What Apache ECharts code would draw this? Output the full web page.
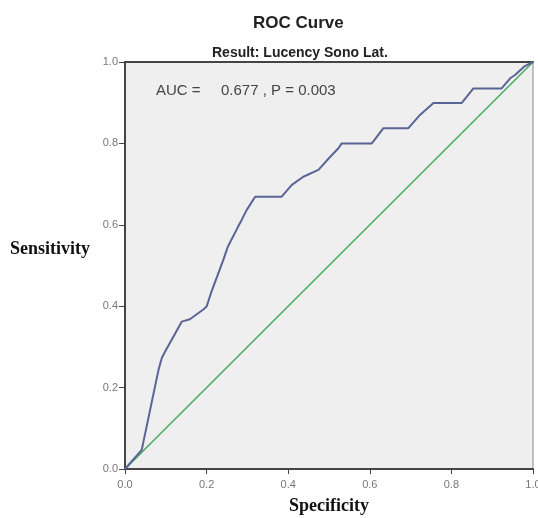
<!DOCTYPE html>
<html>
<head>
<meta charset="utf-8">
<script src="https://cdn.jsdelivr.net/npm/echarts@6/dist/echarts.min.js"></script>
<style>
  html, body { margin: 0; padding: 0; background: #ffffff; }
  #chart { width: 538px; height: 518px; }
</style>
</head>
<body>
<div id="chart"></div>
<script>
// ROC curve: false positive rate (1 - specificity) vs. sensitivity
var fpr = [0, 0.041, 0.082, 0.090, 0.098, 0.139, 0.159, 0.192, 0.200, 0.212, 0.241,
           0.252, 0.277, 0.286, 0.298, 0.319, 0.384, 0.409, 0.437, 0.474, 0.502,
           0.523, 0.531, 0.605, 0.633, 0.694, 0.723, 0.756, 0.825, 0.854, 0.923,
           0.944, 0.956, 0.980, 1.0];
var sensitivity = [0, 0.047, 0.243, 0.272, 0.288, 0.362, 0.368, 0.392, 0.399, 0.436, 0.514,
                   0.546, 0.595, 0.612, 0.636, 0.669, 0.669, 0.698, 0.718, 0.735, 0.766,
                   0.788, 0.800, 0.800, 0.837, 0.837, 0.870, 0.899, 0.899, 0.935, 0.935,
                   0.960, 0.968, 0.990, 1.0];
// Reference line (chance)
var refX = [0, 1];
var refY = [0, 1];
var tickLabels = ['0.0', '0.2', '0.4', '0.6', '0.8', '1.0'];

var rocData = fpr.map(function (v, i) { return [v, sensitivity[i]]; });
var refData = refX.map(function (v, i) { return [v, refY[i]]; });

var chart = echarts.init(document.getElementById('chart'), null, { renderer: 'canvas' });

var axisLabelFmt = function (v) {
  var idx = Math.round(v / 0.2);
  return tickLabels[idx] !== undefined ? tickLabels[idx] : '';
};

var sansFont = 'Liberation Sans, Arial, sans-serif';
var serifFont = 'Liberation Serif, Times New Roman, serif';

chart.setOption({
  backgroundColor: '#ffffff',
  animation: false,
  title: [
    {
      text: 'ROC Curve',
      left: 253, top: 15, padding: 0,
      textStyle: { fontFamily: sansFont, fontWeight: 'bold', fontSize: 17, color: '#222' }
    },
    {
      text: 'Result: Lucency Sono Lat.',
      left: 212, top: 46, padding: 0,
      textStyle: { fontFamily: sansFont, fontWeight: 'bold', fontSize: 14, color: '#222' }
    }
  ],
  grid: {
    left: 125, right: 5, top: 62, bottom: 49,
    containLabel: false,
    outerBoundsMode: 'none',
    show: true,
    backgroundColor: '#efefef',
    borderColor: '#888',
    borderWidth: 1
  },
  xAxis: [
    {
      type: 'value', min: 0, max: 1, interval: 0.2,
      name: 'Specificity',
      nameLocation: 'middle',
      nameGap: 28,
      nameTextStyle: { fontFamily: serifFont, fontWeight: 'bold', fontSize: 18, color: '#111' },
      axisLine: { show: true, onZero: false, lineStyle: { color: '#444', width: 2 } },
      axisTick: { show: true, length: 5, lineStyle: { color: '#444', width: 1 } },
      axisLabel: { formatter: axisLabelFmt, color: '#777', fontSize: 11, margin: 10, fontFamily: sansFont },
      splitLine: { show: false }
    },
    {
      type: 'value', min: 0, max: 1, position: 'top',
      axisLine: { show: true, onZero: false, lineStyle: { color: '#444', width: 2 } },
      axisTick: { show: false }, axisLabel: { show: false }, splitLine: { show: false }
    }
  ],
  yAxis: {
    type: 'value', min: 0, max: 1, interval: 0.2,
    axisLine: { show: true, onZero: false, lineStyle: { color: '#444', width: 2 } },
    axisTick: { show: true, length: 6, lineStyle: { color: '#444', width: 1 } },
    axisLabel: { formatter: axisLabelFmt, color: '#777', fontSize: 11, margin: 7, fontFamily: sansFont },
    splitLine: { show: false }
  },
  graphic: [
    {
      type: 'text', left: 10, top: 240,
      style: { text: 'Sensitivity', font: 'bold 18px "Liberation Serif", "Times New Roman", serif', fill: '#111' }
    },
    {
      type: 'text', left: 156, top: 83,
      style: { text: 'AUC =', font: '15px "Liberation Sans", Arial, sans-serif', fill: '#444' }
    },
    {
      type: 'text', left: 221, top: 83,
      style: { text: '0.677 , P = 0.003', font: '15px "Liberation Sans", Arial, sans-serif', fill: '#444' }
    }
  ],
  series: [
    {
      name: 'Reference Line',
      type: 'line',
      data: refData,
      showSymbol: false,
      lineStyle: { color: '#44ab5f', width: 1.5 },
      z: 2
    },
    {
      name: 'ROC',
      type: 'line',
      data: rocData,
      showSymbol: false,
      lineStyle: { color: '#5a6496', width: 2 },
      z: 3
    }
  ]
});
</script>
</body>
</html>
